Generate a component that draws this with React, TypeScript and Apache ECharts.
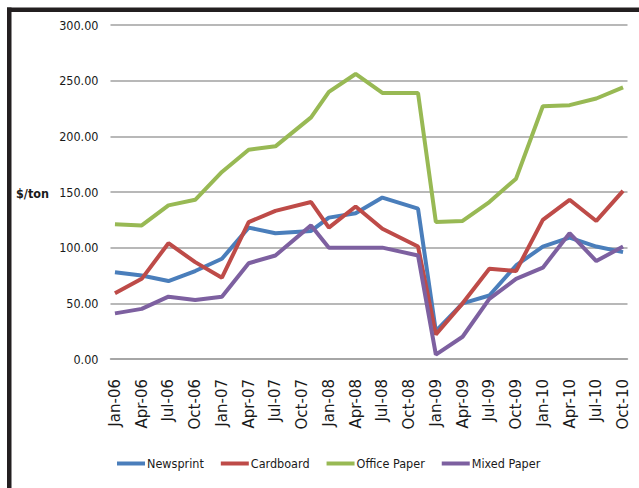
import React, { useEffect, useRef } from "react";
import * as echarts from "echarts";

const MONTH_NAMES = ["Jan","Feb","Mar","Apr","May","Jun","Jul","Aug","Sep","Oct","Nov","Dec"];
const YEARS = ["06","07","08","09","10"];
const months: string[] = [];
YEARS.forEach((y) => MONTH_NAMES.forEach((m) => months.push(`${m}-${y}`)));
const axisMonths = months.slice(0, months.indexOf("Oct-10") + 1);

const dates = ["Jan-06","Apr-06","Jul-06","Oct-06","Jan-07","Apr-07","Jul-07","Nov-07","Jan-08","Apr-08","Jul-08","Nov-08","Jan-09","Apr-09","Jul-09","Oct-09","Jan-10","Apr-10","Jul-10","Oct-10"];
const newsprint = [78, 75, 70, 79, 90, 118, 113, 115, 127, 131, 145, 135, 25, 50, 57, 84, 101, 109, 101, 96];
const cardboard = [59, 72, 104, 87, 73, 123, 133, 141, 118, 137, 117, 101, 22, 50, 81, 79, 125, 143, 124, 151];
const officePaper = [121, 120, 138, 143, 168, 188, 191, 217, 240, 256, 239, 239, 123, 124, 141, 162, 227, 228, 234, 244];
const mixedPaper = [41, 45, 56, 53, 56, 86, 93, 120, 100, 100, 100, 93, 4, 20, 54, 72, 82, 113, 88, 101];

const seriesDefs = [
  { name: "Newsprint", values: newsprint, color: "#4A7EBB" },
  { name: "Cardboard", values: cardboard, color: "#BE4B48" },
  { name: "Office Paper", values: officePaper, color: "#98B954" },
  { name: "Mixed Paper", values: mixedPaper, color: "#7D60A0" },
];

const NARROW = "'DejaVu Sans Condensed', 'Liberation Sans Narrow', sans-serif";

export default function App() {
  const ref = useRef<HTMLDivElement>(null);
  useEffect(() => {
    if (!ref.current) return;
    const chart = echarts.init(ref.current, null, { renderer: "svg" });
    chart.setOption({
      animation: false,
      backgroundColor: "#ffffff",
      grid: { left: 110.5, right: 11.5, top: 25, bottom: 129, containLabel: false },
      xAxis: {
        type: "category",
        data: axisMonths,
        boundaryGap: true,
        axisLine: { show: true, lineStyle: { color: "#A0A0A0", width: 1.5 } },
        axisTick: { show: false },
        axisLabel: {
          interval: 2,
          rotate: 90,
          margin: 20,
          color: "#1a1a1a",
          fontFamily: "'DejaVu Sans', Verdana, sans-serif",
          fontSize: 15,
        },
        splitLine: { show: false },
      },
      yAxis: {
        type: "value",
        min: 0,
        max: 300,
        interval: 50,
        axisLine: { show: false },
        axisTick: { show: false },
        axisLabel: {
          margin: 12,
          color: "#1a1a1a",
          fontFamily: NARROW,
          fontSize: 12.5,
          formatter: (v: number) => v.toFixed(2),
        },
        splitLine: { show: true, lineStyle: { color: "#A0A0A0", width: 1.5 } },
      },
      legend: {
        left: 112,
        top: 452,
        icon: "rect",
        itemWidth: 28,
        itemHeight: 4,
        itemGap: 17,
        textStyle: { fontFamily: NARROW, fontSize: 12.5, color: "#1a1a1a", padding: [0, 0, 0, -3] },
        data: seriesDefs.map((s) => s.name),
      },
      graphic: [
        { type: "rect", shape: { x: 7, y: 7.5, width: 632, height: 4.5 }, style: { fill: "#231F20" } },
        { type: "rect", shape: { x: 7, y: 7.5, width: 4.5, height: 481 }, style: { fill: "#231F20" } },
        {
          type: "text",
          x: 16,
          y: 193,
          style: {
            text: "$/ton",
            fontFamily: NARROW,
            fontWeight: "bold",
            fontSize: 12.5,
            fill: "#1a1a1a",
            verticalAlign: "middle",
            align: "left",
          },
        },
      ],
      series: seriesDefs.map((s) => ({
        name: s.name,
        type: "line",
        data: dates.map((d, i) => [d, s.values[i]]),
        showSymbol: false,
        symbol: "none",
        color: s.color,
        lineStyle: { color: s.color, width: 4 },
        itemStyle: { color: s.color },
      })),
    });
    return () => chart.dispose();
  }, []);
  return <div ref={ref} style={{ position: "fixed", left: 0, top: 0, width: 639, height: 488 }} />;
}
